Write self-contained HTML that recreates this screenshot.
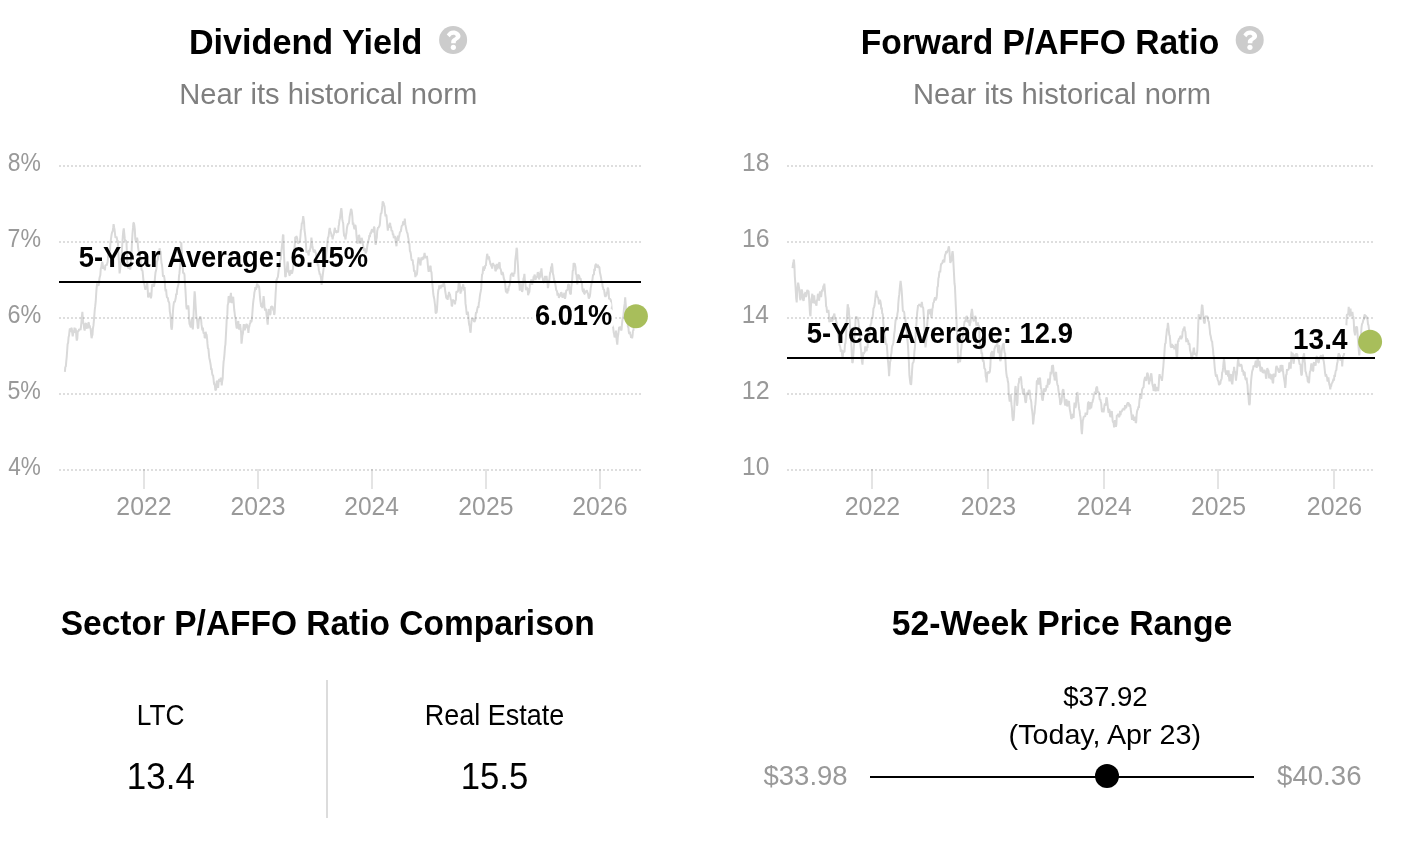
<!DOCTYPE html>
<html lang="en">
<head>
<meta charset="utf-8">
<title>Valuation</title>
<style>
html,body{margin:0;padding:0;background:#fff;}
body{width:1414px;height:850px;overflow:hidden;font-family:"Liberation Sans",sans-serif;}
svg{display:block;position:absolute;left:0;top:0;will-change:transform;}
text{font-family:"Liberation Sans",sans-serif;}
.b{font-weight:bold;}
.halo{paint-order:stroke;stroke:#fff;stroke-width:8px;stroke-linejoin:round;}
.grid line{stroke:#000;stroke-opacity:.13;stroke-width:2;stroke-dasharray:2 2;}
.tick line{stroke:#000;stroke-opacity:.105;stroke-width:2;}
.series{fill:none;stroke:#d9d9d9;stroke-width:2;stroke-linejoin:bevel;stroke-linecap:butt;}
</style>
</head>
<body>
<svg width="1414" height="850" viewBox="0 0 1414 850">

<path class="series" d="M64.9 371.9 L65.3 366.8 L65.8 366.7 L66.3 360.9 L66.7 357.1 L67.2 350.2 L67.6 344.2 L68.1 342.9 L68.6 337.0 L69.0 335.8 L69.5 331.0 L69.9 328.3 L70.4 329.8 L70.9 332.0 L71.3 327.9 L71.8 328.7 L72.2 332.7 L72.7 336.4 L73.2 333.3 L73.6 330.5 L74.1 332.9 L74.5 327.7 L75.0 331.3 L75.5 328.4 L75.9 330.2 L76.4 337.3 L76.8 340.6 L77.3 338.8 L77.8 330.5 L78.2 331.1 L78.7 331.1 L79.1 329.0 L79.6 329.8 L80.1 328.9 L80.5 330.1 L81.0 326.5 L81.4 322.6 L81.9 316.1 L82.4 311.8 L82.8 318.6 L83.3 323.2 L83.7 324.1 L84.2 328.8 L84.7 330.6 L85.1 325.0 L85.6 323.7 L86.0 323.2 L86.5 327.2 L87.0 328.6 L87.4 326.4 L87.9 328.5 L88.3 322.5 L88.8 322.9 L89.3 326.8 L89.7 325.3 L90.2 328.3 L90.6 328.3 L91.1 334.3 L91.6 338.2 L92.0 336.1 L92.5 334.6 L92.9 328.5 L93.4 325.9 L93.9 320.7 L94.3 315.6 L94.8 309.5 L95.2 306.2 L95.7 301.7 L96.2 293.4 L96.6 288.2 L97.1 283.4 L97.5 285.6 L98.0 284.9 L98.5 285.8 L98.9 283.7 L99.4 278.8 L99.8 276.8 L100.3 275.2 L100.8 268.4 L101.2 267.8 L101.7 264.2 L102.1 262.0 L102.6 263.1 L103.1 268.9 L103.5 267.6 L104.0 267.9 L104.4 268.0 L104.9 270.3 L105.4 265.1 L105.8 265.2 L106.3 264.8 L106.7 265.6 L107.2 263.4 L107.7 261.4 L108.1 255.7 L108.6 253.5 L109.0 250.9 L109.5 251.7 L110.0 250.4 L110.4 243.5 L110.9 239.7 L111.3 236.6 L111.8 233.3 L112.3 231.9 L112.7 231.1 L113.2 227.7 L113.6 224.2 L114.1 227.2 L114.6 230.0 L115.0 233.9 L115.5 238.0 L115.9 237.3 L116.4 236.4 L116.9 238.2 L117.3 241.3 L117.8 240.3 L118.2 249.4 L118.7 257.4 L119.2 265.9 L119.6 273.4 L120.1 269.8 L120.5 266.1 L121.0 260.9 L121.5 259.5 L121.9 249.8 L122.4 242.3 L122.8 236.4 L123.3 231.2 L123.8 228.3 L124.2 232.8 L124.7 238.2 L125.1 241.2 L125.6 240.3 L126.1 241.0 L126.5 242.9 L127.0 255.5 L127.4 262.7 L127.9 267.7 L128.4 268.0 L128.8 268.1 L129.3 267.9 L129.7 266.0 L130.2 269.6 L130.7 266.3 L131.1 257.4 L131.6 250.8 L132.0 241.3 L132.5 233.5 L133.0 227.9 L133.4 222.9 L133.9 222.8 L134.3 225.1 L134.8 229.3 L135.3 238.9 L135.7 240.6 L136.2 241.2 L136.6 241.7 L137.1 237.6 L137.6 240.7 L138.0 247.0 L138.5 250.0 L138.9 252.2 L139.4 252.8 L139.9 256.3 L140.3 258.6 L140.8 265.1 L141.2 266.6 L141.7 270.3 L142.2 270.1 L142.6 271.3 L143.1 276.9 L143.5 280.9 L144.0 282.8 L144.5 285.1 L144.9 287.7 L145.4 289.8 L145.8 287.3 L146.3 287.5 L146.8 285.7 L147.2 282.6 L147.7 289.0 L148.1 297.5 L148.6 295.7 L149.1 295.5 L149.5 294.8 L150.0 292.7 L150.4 296.3 L150.9 298.2 L151.4 295.6 L151.8 288.3 L152.3 284.1 L152.7 284.8 L153.2 285.6 L153.7 286.6 L154.1 285.8 L154.6 282.5 L155.0 277.3 L155.5 272.5 L156.0 270.5 L156.4 268.9 L156.9 261.8 L157.3 261.0 L157.8 259.5 L158.3 255.7 L158.7 253.2 L159.2 251.0 L159.6 248.3 L160.1 251.0 L160.6 251.8 L161.0 257.7 L161.5 263.0 L161.9 264.4 L162.4 268.5 L162.9 275.6 L163.3 276.7 L163.8 275.1 L164.2 276.9 L164.7 280.2 L165.2 288.0 L165.6 291.5 L166.1 289.3 L166.5 294.3 L167.0 297.6 L167.5 297.7 L167.9 298.2 L168.4 301.5 L168.8 301.8 L169.3 303.3 L169.8 311.6 L170.2 313.6 L170.7 318.1 L171.1 326.3 L171.6 329.7 L172.1 327.3 L172.5 319.6 L173.0 310.8 L173.4 306.1 L173.9 302.6 L174.4 301.4 L174.8 302.4 L175.3 299.9 L175.7 298.3 L176.2 293.6 L176.7 294.9 L177.1 289.8 L177.6 287.6 L178.0 286.1 L178.5 284.3 L179.0 276.1 L179.4 273.7 L179.9 268.0 L180.3 264.1 L180.8 255.1 L181.3 242.3 L181.7 251.1 L182.2 260.9 L182.6 265.0 L183.1 273.2 L183.6 273.0 L184.0 273.1 L184.5 275.1 L184.9 282.5 L185.4 289.1 L185.9 298.0 L186.3 306.0 L186.8 309.3 L187.2 307.4 L187.7 309.1 L188.2 305.3 L188.6 307.9 L189.1 319.5 L189.5 323.9 L190.0 324.8 L190.5 326.7 L190.9 327.3 L191.4 321.5 L191.8 318.8 L192.3 322.8 L192.8 329.4 L193.2 323.8 L193.7 311.3 L194.1 301.3 L194.6 291.3 L195.1 296.1 L195.5 303.8 L196.0 311.5 L196.4 317.6 L196.9 319.0 L197.4 322.8 L197.8 328.0 L198.3 328.2 L198.7 321.7 L199.2 318.5 L199.7 319.2 L200.1 316.4 L200.6 317.3 L201.0 318.7 L201.5 324.4 L202.0 327.8 L202.4 330.3 L202.9 327.6 L203.3 331.7 L203.8 333.8 L204.3 332.6 L204.7 337.9 L205.2 337.6 L205.6 331.8 L206.1 334.2 L206.6 334.7 L207.0 337.8 L207.5 343.9 L207.9 348.2 L208.4 348.7 L208.9 354.1 L209.3 357.9 L209.8 360.0 L210.2 362.1 L210.7 365.0 L211.2 369.8 L211.6 368.3 L212.1 373.1 L212.5 375.2 L213.0 375.0 L213.5 378.6 L213.9 383.0 L214.4 385.0 L214.8 383.7 L215.3 389.8 L215.8 390.3 L216.2 388.9 L216.7 381.4 L217.1 381.3 L217.6 381.8 L218.1 387.8 L218.5 383.3 L219.0 379.7 L219.4 379.4 L219.9 381.5 L220.4 380.4 L220.8 377.7 L221.3 379.8 L221.7 385.4 L222.2 381.0 L222.7 378.3 L223.1 369.0 L223.6 361.6 L224.0 359.2 L224.5 353.8 L225.0 346.9 L225.4 344.6 L225.9 335.4 L226.3 328.1 L226.8 317.6 L227.3 314.9 L227.7 305.0 L228.2 303.5 L228.6 296.4 L229.1 297.0 L229.6 300.0 L230.0 302.5 L230.5 296.7 L230.9 292.9 L231.4 299.2 L231.9 303.1 L232.3 300.6 L232.8 298.0 L233.2 296.8 L233.7 303.1 L234.2 309.5 L234.6 312.5 L235.1 317.1 L235.5 317.2 L236.0 323.5 L236.5 327.2 L236.9 328.6 L237.4 324.1 L237.8 322.4 L238.3 321.1 L238.8 327.5 L239.2 329.5 L239.7 325.1 L240.1 324.1 L240.6 329.0 L241.1 332.4 L241.5 343.6 L242.0 339.6 L242.4 335.5 L242.9 333.5 L243.4 327.6 L243.8 324.2 L244.3 326.1 L244.7 330.3 L245.2 328.3 L245.7 327.8 L246.1 324.7 L246.6 324.4 L247.0 324.7 L247.5 326.1 L248.0 328.6 L248.4 332.8 L248.9 327.6 L249.3 326.7 L249.8 323.7 L250.3 323.2 L250.7 320.2 L251.2 322.3 L251.6 321.1 L252.1 316.7 L252.6 309.6 L253.0 304.2 L253.5 299.8 L253.9 297.4 L254.4 292.5 L254.9 290.6 L255.3 287.1 L255.8 289.6 L256.2 288.9 L256.7 285.4 L257.2 283.5 L257.6 287.7 L258.1 284.8 L258.5 286.1 L259.0 286.2 L259.5 290.6 L259.9 296.2 L260.4 301.1 L260.8 303.8 L261.3 306.8 L261.8 305.7 L262.2 308.2 L262.7 303.8 L263.1 301.6 L263.6 296.0 L264.1 300.0 L264.5 307.2 L265.0 310.0 L265.4 310.3 L265.9 308.5 L266.4 312.8 L266.8 316.8 L267.3 321.4 L267.7 324.6 L268.2 315.9 L268.7 309.0 L269.1 312.1 L269.6 310.2 L270.0 315.0 L270.5 313.9 L271.0 306.5 L271.4 306.7 L271.9 306.5 L272.3 306.3 L272.8 307.8 L273.3 310.5 L273.7 310.0 L274.2 315.0 L274.6 313.1 L275.1 303.6 L275.6 294.0 L276.0 287.7 L276.5 279.9 L276.9 279.4 L277.4 277.8 L277.9 277.0 L278.3 273.3 L278.8 269.2 L279.2 267.2 L279.7 266.0 L280.2 260.2 L280.6 259.7 L281.1 254.3 L281.5 249.9 L282.0 245.4 L282.5 241.1 L282.9 235.4 L283.4 234.7 L283.8 250.4 L284.3 261.2 L284.8 268.1 L285.2 276.4 L285.7 276.8 L286.1 271.6 L286.6 272.6 L287.1 266.6 L287.5 261.5 L288.0 264.0 L288.4 270.8 L288.9 272.1 L289.4 275.1 L289.8 275.5 L290.3 271.5 L290.7 270.2 L291.2 271.3 L291.7 273.3 L292.1 273.4 L292.6 270.7 L293.0 268.8 L293.5 263.4 L294.0 255.7 L294.4 248.4 L294.9 243.5 L295.3 236.7 L295.8 238.6 L296.3 236.3 L296.7 236.7 L297.2 238.5 L297.6 241.8 L298.1 243.1 L298.6 243.4 L299.0 241.1 L299.5 242.0 L299.9 241.2 L300.4 236.6 L300.9 229.9 L301.3 229.6 L301.8 222.9 L302.2 223.4 L302.7 220.6 L303.2 216.2 L303.6 218.9 L304.1 222.6 L304.5 230.0 L305.0 233.6 L305.5 238.1 L305.9 242.9 L306.4 252.7 L306.8 250.7 L307.3 252.7 L307.8 251.0 L308.2 253.4 L308.7 255.5 L309.1 249.9 L309.6 251.8 L310.1 249.1 L310.5 247.8 L311.0 243.8 L311.4 237.6 L311.9 242.4 L312.4 246.0 L312.8 248.2 L313.3 250.0 L313.7 252.1 L314.2 251.7 L314.7 250.3 L315.1 250.2 L315.6 252.6 L316.0 253.9 L316.5 258.7 L317.0 256.6 L317.4 262.5 L317.9 266.0 L318.3 264.2 L318.8 270.2 L319.3 271.7 L319.7 274.7 L320.2 273.6 L320.6 276.0 L321.1 278.7 L321.6 284.9 L322.0 282.4 L322.5 277.3 L322.9 273.9 L323.4 270.2 L323.9 266.7 L324.3 264.8 L324.8 267.2 L325.2 261.6 L325.7 261.7 L326.2 255.0 L326.6 250.7 L327.1 247.5 L327.5 241.2 L328.0 237.4 L328.5 237.0 L328.9 233.5 L329.4 229.3 L329.8 227.9 L330.3 230.9 L330.8 232.9 L331.2 233.1 L331.7 236.7 L332.1 235.9 L332.6 239.4 L333.1 236.0 L333.5 235.3 L334.0 233.5 L334.4 230.5 L334.9 227.8 L335.4 232.7 L335.8 230.1 L336.3 232.5 L336.7 232.3 L337.2 230.7 L337.7 231.9 L338.1 232.5 L338.6 226.1 L339.0 224.7 L339.5 219.9 L340.0 218.2 L340.4 214.8 L340.9 210.6 L341.3 208.2 L341.8 211.8 L342.3 219.5 L342.7 221.3 L343.2 223.2 L343.6 230.8 L344.1 235.9 L344.6 236.0 L345.0 236.6 L345.5 239.5 L345.9 235.7 L346.4 233.3 L346.9 228.2 L347.3 226.3 L347.8 224.2 L348.2 223.8 L348.7 223.8 L349.2 221.1 L349.6 216.8 L350.1 213.9 L350.5 212.1 L351.0 208.9 L351.5 210.0 L351.9 212.2 L352.4 217.2 L352.8 224.6 L353.3 222.7 L353.8 226.4 L354.2 228.3 L354.7 229.1 L355.1 224.8 L355.6 225.9 L356.1 230.2 L356.5 235.7 L357.0 240.7 L357.4 243.6 L357.9 242.3 L358.4 241.1 L358.8 235.3 L359.3 235.5 L359.7 240.5 L360.2 243.6 L360.7 242.3 L361.1 242.0 L361.6 237.9 L362.0 239.0 L362.5 242.2 L363.0 244.9 L363.4 247.7 L363.9 251.1 L364.3 248.9 L364.8 248.6 L365.3 249.8 L365.7 253.3 L366.2 252.2 L366.6 251.2 L367.1 247.4 L367.6 243.9 L368.0 243.0 L368.5 240.1 L368.9 239.2 L369.4 235.0 L369.9 237.1 L370.3 232.6 L370.8 234.2 L371.2 231.7 L371.7 230.1 L372.2 229.3 L372.6 230.4 L373.1 232.2 L373.5 231.5 L374.0 226.7 L374.5 227.9 L374.9 236.6 L375.4 243.6 L375.8 244.6 L376.3 239.6 L376.8 237.8 L377.2 231.0 L377.7 229.1 L378.1 227.2 L378.6 228.0 L379.1 226.0 L379.5 226.4 L380.0 222.8 L380.4 217.0 L380.9 212.9 L381.4 213.5 L381.8 210.5 L382.3 205.7 L382.7 201.3 L383.2 202.6 L383.7 203.1 L384.1 204.9 L384.6 206.8 L385.0 212.0 L385.5 216.4 L386.0 214.9 L386.4 215.3 L386.9 220.4 L387.3 225.0 L387.8 230.6 L388.3 226.8 L388.7 227.5 L389.2 225.5 L389.6 224.2 L390.1 222.9 L390.6 227.8 L391.0 226.5 L391.5 231.2 L391.9 230.5 L392.4 231.2 L392.9 235.1 L393.3 233.7 L393.8 238.1 L394.2 237.3 L394.7 236.1 L395.2 237.4 L395.6 240.5 L396.1 244.1 L396.5 246.3 L397.0 239.6 L397.5 237.9 L397.9 235.7 L398.4 240.8 L398.8 237.5 L399.3 235.9 L399.8 232.6 L400.2 231.5 L400.7 231.9 L401.1 229.8 L401.6 226.3 L402.1 225.5 L402.5 225.8 L403.0 222.5 L403.4 221.2 L403.9 224.6 L404.4 223.6 L404.8 218.5 L405.3 224.4 L405.7 226.3 L406.2 229.1 L406.7 231.2 L407.1 232.5 L407.6 233.6 L408.0 236.6 L408.5 238.9 L409.0 244.2 L409.4 243.3 L409.9 251.3 L410.3 251.5 L410.8 253.8 L411.3 258.2 L411.7 260.3 L412.2 260.1 L412.6 259.6 L413.1 263.9 L413.6 266.0 L414.0 271.6 L414.5 270.1 L414.9 272.3 L415.4 277.1 L415.9 274.1 L416.3 275.0 L416.8 274.6 L417.2 271.8 L417.7 264.4 L418.2 260.5 L418.6 257.4 L419.1 260.9 L419.5 259.4 L420.0 263.3 L420.5 265.4 L420.9 260.4 L421.4 257.5 L421.8 259.9 L422.3 259.0 L422.8 257.0 L423.2 259.5 L423.7 256.8 L424.1 255.4 L424.6 252.9 L425.1 256.8 L425.5 258.3 L426.0 256.6 L426.4 257.9 L426.9 256.0 L427.4 259.6 L427.8 264.6 L428.3 269.6 L428.7 271.7 L429.2 270.0 L429.7 267.6 L430.1 266.8 L430.6 265.8 L431.0 271.4 L431.5 272.1 L432.0 279.6 L432.4 284.5 L432.9 289.6 L433.3 294.0 L433.8 297.1 L434.3 299.1 L434.7 302.5 L435.2 306.5 L435.6 312.9 L436.1 313.0 L436.6 312.3 L437.0 309.5 L437.5 301.0 L437.9 294.2 L438.4 289.9 L438.9 289.1 L439.3 285.4 L439.8 288.4 L440.2 287.8 L440.7 288.3 L441.2 285.6 L441.6 285.2 L442.1 285.8 L442.5 286.3 L443.0 286.1 L443.5 283.3 L443.9 282.9 L444.4 284.8 L444.8 287.6 L445.3 291.8 L445.8 294.6 L446.2 297.7 L446.7 298.1 L447.1 295.4 L447.6 299.8 L448.1 296.4 L448.5 295.3 L449.0 292.0 L449.4 294.1 L449.9 294.3 L450.4 297.1 L450.8 299.6 L451.3 300.5 L451.7 306.3 L452.2 305.7 L452.7 301.7 L453.1 299.5 L453.6 301.7 L454.0 301.0 L454.5 300.5 L455.0 304.3 L455.4 300.9 L455.9 299.8 L456.3 291.9 L456.8 291.6 L457.3 292.4 L457.7 291.5 L458.2 290.5 L458.6 283.8 L459.1 282.8 L459.6 284.0 L460.0 286.5 L460.5 293.6 L460.9 291.1 L461.4 291.3 L461.9 286.8 L462.3 288.6 L462.8 286.2 L463.2 284.3 L463.7 287.8 L464.2 290.6 L464.6 287.0 L465.1 294.9 L465.5 303.4 L466.0 307.0 L466.5 312.0 L466.9 314.8 L467.4 313.1 L467.8 311.6 L468.3 315.7 L468.8 322.0 L469.2 324.9 L469.7 326.2 L470.1 330.5 L470.6 332.7 L471.1 325.6 L471.5 321.3 L472.0 318.4 L472.4 320.0 L472.9 318.7 L473.4 318.4 L473.8 320.8 L474.3 321.8 L474.7 321.3 L475.2 320.2 L475.7 314.7 L476.1 312.2 L476.6 313.2 L477.0 310.5 L477.5 308.0 L478.0 306.4 L478.4 308.0 L478.9 302.6 L479.3 301.2 L479.8 296.7 L480.3 293.4 L480.7 291.6 L481.2 288.4 L481.6 280.3 L482.1 274.0 L482.6 274.1 L483.0 269.2 L483.5 266.4 L483.9 270.7 L484.4 268.0 L484.9 268.7 L485.3 265.1 L485.8 266.0 L486.2 262.0 L486.7 257.5 L487.2 253.8 L487.6 255.9 L488.1 257.2 L488.5 259.3 L489.0 256.4 L489.5 260.3 L489.9 261.2 L490.4 264.1 L490.8 264.4 L491.3 265.9 L491.8 266.7 L492.2 268.6 L492.7 263.4 L493.1 263.6 L493.6 264.7 L494.1 266.0 L494.5 264.9 L495.0 266.8 L495.4 271.2 L495.9 270.4 L496.4 266.3 L496.8 263.9 L497.3 269.3 L497.7 267.5 L498.2 267.9 L498.7 264.4 L499.1 263.1 L499.6 262.3 L500.0 268.4 L500.5 268.7 L501.0 270.2 L501.4 273.7 L501.9 274.9 L502.3 272.2 L502.8 272.8 L503.3 275.0 L503.7 277.9 L504.2 279.6 L504.6 280.3 L505.1 283.5 L505.6 289.2 L506.0 292.5 L506.5 288.8 L506.9 292.1 L507.4 293.5 L507.9 288.3 L508.3 291.2 L508.8 286.1 L509.2 286.5 L509.7 284.8 L510.2 281.6 L510.6 276.1 L511.1 274.0 L511.5 274.3 L512.0 272.8 L512.5 274.2 L512.9 275.0 L513.4 276.6 L513.8 272.9 L514.3 274.2 L514.8 270.7 L515.2 261.1 L515.7 256.7 L516.1 253.5 L516.6 247.8 L517.1 249.7 L517.5 259.3 L518.0 266.2 L518.4 275.1 L518.9 283.1 L519.4 285.1 L519.8 290.6 L520.3 288.6 L520.7 283.2 L521.2 285.9 L521.7 285.9 L522.1 292.0 L522.6 290.1 L523.0 285.0 L523.5 278.4 L524.0 277.3 L524.4 273.8 L524.9 280.5 L525.3 281.8 L525.8 289.5 L526.3 289.6 L526.7 287.0 L527.2 288.7 L527.6 288.1 L528.1 295.2 L528.6 293.0 L529.0 293.0 L529.5 291.0 L529.9 284.0 L530.4 284.1 L530.9 282.7 L531.3 279.4 L531.8 282.0 L532.2 284.8 L532.7 279.4 L533.2 280.9 L533.6 276.3 L534.1 278.5 L534.5 274.7 L535.0 276.1 L535.5 280.1 L535.9 277.5 L536.4 277.7 L536.8 277.6 L537.3 275.2 L537.8 272.1 L538.2 273.3 L538.7 274.1 L539.1 279.4 L539.6 277.3 L540.1 276.9 L540.5 271.2 L541.0 272.9 L541.4 268.3 L541.9 273.3 L542.4 277.7 L542.8 278.0 L543.3 282.4 L543.7 282.5 L544.2 281.4 L544.7 281.7 L545.1 275.9 L545.6 279.6 L546.0 278.0 L546.5 275.9 L547.0 280.2 L547.4 280.9 L547.9 288.1 L548.3 285.9 L548.8 281.2 L549.3 280.2 L549.7 276.0 L550.2 271.8 L550.6 272.6 L551.1 266.7 L551.6 268.3 L552.0 263.4 L552.5 267.9 L552.9 273.6 L553.4 275.1 L553.9 278.8 L554.3 280.5 L554.8 281.1 L555.2 283.6 L555.7 286.5 L556.2 290.2 L556.6 290.5 L557.1 291.7 L557.5 295.6 L558.0 293.1 L558.5 294.3 L558.9 298.0 L559.4 295.8 L559.8 296.1 L560.3 296.1 L560.8 293.1 L561.2 292.5 L561.7 293.0 L562.1 296.2 L562.6 297.8 L563.1 294.7 L563.5 295.6 L564.0 294.0 L564.4 292.9 L564.9 298.8 L565.4 297.1 L565.8 293.9 L566.3 290.2 L566.7 290.3 L567.2 290.3 L567.7 288.7 L568.1 284.8 L568.6 284.4 L569.0 284.9 L569.5 290.6 L570.0 293.1 L570.4 294.2 L570.9 293.8 L571.3 286.8 L571.8 283.4 L572.3 277.6 L572.7 270.7 L573.2 270.2 L573.6 263.0 L574.1 264.3 L574.6 263.2 L575.0 264.8 L575.5 267.1 L575.9 274.5 L576.4 273.8 L576.9 279.3 L577.3 284.3 L577.8 277.7 L578.2 274.9 L578.7 275.3 L579.2 275.9 L579.6 277.5 L580.1 279.5 L580.5 278.2 L581.0 280.6 L581.5 282.9 L581.9 282.9 L582.4 289.2 L582.8 291.0 L583.3 291.9 L583.8 288.7 L584.2 294.0 L584.7 293.8 L585.1 291.4 L585.6 292.0 L586.1 291.2 L586.5 290.7 L587.0 290.8 L587.4 292.7 L587.9 293.2 L588.4 296.3 L588.8 298.7 L589.3 297.4 L589.7 296.8 L590.2 293.8 L590.7 288.0 L591.1 286.1 L591.6 282.9 L592.0 282.6 L592.5 279.1 L593.0 275.0 L593.4 274.7 L593.9 274.7 L594.3 268.8 L594.8 270.8 L595.3 265.1 L595.7 264.6 L596.2 263.8 L596.6 266.1 L597.1 267.4 L597.6 266.9 L598.0 264.6 L598.5 268.0 L598.9 266.8 L599.4 267.2 L599.9 272.6 L600.3 274.0 L600.8 276.5 L601.2 278.6 L601.7 282.8 L602.2 282.4 L602.6 286.4 L603.1 287.5 L603.5 289.9 L604.0 289.0 L604.5 293.2 L604.9 295.6 L605.4 296.9 L605.8 295.4 L606.3 296.1 L606.8 291.8 L607.2 294.1 L607.7 288.1 L608.1 288.1 L608.6 291.3 L609.1 299.3 L609.5 298.9 L610.0 298.7 L610.4 299.3 L610.9 300.5 L611.4 305.5 L611.8 310.3 L612.3 318.5 L612.7 326.5 L613.2 327.9 L613.7 332.5 L614.1 333.9 L614.6 337.4 L615.0 336.3 L615.5 335.3 L616.0 330.5 L616.4 337.7 L616.9 342.2 L617.3 344.7 L617.8 337.1 L618.3 334.0 L618.7 330.6 L619.2 326.9 L619.6 328.6 L620.1 326.7 L620.6 327.3 L621.0 329.8 L621.5 330.3 L621.9 325.0 L622.4 320.3 L622.9 316.9 L623.3 317.0 L623.8 310.6 L624.2 307.0 L624.7 303.7 L625.2 297.4 L625.6 302.9 L626.1 309.6 L626.5 316.0 L627.0 317.5 L627.5 320.0 L627.9 326.7 L628.4 327.5 L628.8 332.1 L629.3 333.9 L629.8 331.7 L630.2 334.0 L630.7 335.3 L631.1 337.9 L631.6 336.2 L632.1 338.3 L632.5 336.1 L633.0 330.6 L633.4 330.6 L633.9 323.3 L634.4 323.4 L634.8 317.6 L635.3 314.6 L635.7 314.2 L635.8 316.4"/>
<path class="series" d="M792.5 268.2 L793.0 264.0 L793.5 261.7 L793.9 259.5 L794.4 265.5 L794.8 276.2 L795.3 283.1 L795.8 291.5 L796.2 298.2 L796.7 302.5 L797.1 293.6 L797.6 287.3 L798.1 282.6 L798.5 284.4 L799.0 287.8 L799.4 289.7 L799.9 297.6 L800.4 300.2 L800.8 296.8 L801.3 292.2 L801.7 289.5 L802.2 291.5 L802.7 298.1 L803.1 299.9 L803.6 300.9 L804.0 298.4 L804.5 294.1 L805.0 293.1 L805.4 292.1 L805.9 296.9 L806.3 295.8 L806.8 292.8 L807.3 289.8 L807.7 291.2 L808.2 290.9 L808.6 291.4 L809.1 298.4 L809.6 307.3 L810.0 314.0 L810.5 316.2 L810.9 306.7 L811.4 299.2 L811.9 297.1 L812.3 293.7 L812.8 301.1 L813.2 303.1 L813.7 301.6 L814.2 295.3 L814.6 300.7 L815.1 303.5 L815.5 301.3 L816.0 304.4 L816.5 305.7 L816.9 299.8 L817.4 299.9 L817.8 294.6 L818.3 294.2 L818.8 300.5 L819.2 300.0 L819.7 293.2 L820.1 291.4 L820.6 294.3 L821.1 297.2 L821.5 293.9 L822.0 289.7 L822.4 291.4 L822.9 289.5 L823.4 285.7 L823.8 287.7 L824.3 283.7 L824.7 287.7 L825.2 294.3 L825.7 298.7 L826.1 306.2 L826.6 307.2 L827.0 312.6 L827.5 311.4 L828.0 310.9 L828.4 309.9 L828.9 314.6 L829.3 322.2 L829.8 320.9 L830.3 317.2 L830.7 321.8 L831.2 319.8 L831.6 319.4 L832.1 321.5 L832.6 320.0 L833.0 315.9 L833.5 319.7 L833.9 315.0 L834.4 313.6 L834.9 318.3 L835.3 318.1 L835.8 319.7 L836.2 320.8 L836.7 323.2 L837.2 328.8 L837.6 330.2 L838.1 334.9 L838.5 336.8 L839.0 339.9 L839.5 345.5 L839.9 345.6 L840.4 348.0 L840.8 352.0 L841.3 350.0 L841.8 350.4 L842.2 356.0 L842.7 357.5 L843.1 352.9 L843.6 350.5 L844.1 352.3 L844.5 351.6 L845.0 343.7 L845.4 343.6 L845.9 338.3 L846.4 328.4 L846.8 318.7 L847.3 310.6 L847.7 304.2 L848.2 307.0 L848.7 308.3 L849.1 315.0 L849.6 318.0 L850.0 326.5 L850.5 331.8 L851.0 338.0 L851.4 345.2 L851.9 357.1 L852.3 363.0 L852.8 362.1 L853.3 354.9 L853.7 349.3 L854.2 341.9 L854.6 333.3 L855.1 329.8 L855.6 319.3 L856.0 316.5 L856.5 317.2 L856.9 318.1 L857.4 317.0 L857.9 318.4 L858.3 320.8 L858.8 325.5 L859.2 327.0 L859.7 331.8 L860.2 340.0 L860.6 346.6 L861.1 350.2 L861.5 356.1 L862.0 361.9 L862.5 364.6 L862.9 357.9 L863.4 352.0 L863.8 353.9 L864.3 352.2 L864.8 352.2 L865.2 346.3 L865.7 349.7 L866.1 350.1 L866.6 351.1 L867.1 346.6 L867.5 347.9 L868.0 340.6 L868.4 339.4 L868.9 337.8 L869.4 335.9 L869.8 331.3 L870.3 327.1 L870.7 324.2 L871.2 323.5 L871.7 318.7 L872.1 318.4 L872.6 316.9 L873.0 313.9 L873.5 308.2 L874.0 307.6 L874.4 306.1 L874.9 302.2 L875.3 298.5 L875.8 293.4 L876.3 290.6 L876.7 294.6 L877.2 295.8 L877.6 297.2 L878.1 297.6 L878.6 300.7 L879.0 304.4 L879.5 301.1 L879.9 299.8 L880.4 301.3 L880.9 304.4 L881.3 309.4 L881.8 307.6 L882.2 313.8 L882.7 313.6 L883.2 321.1 L883.6 326.7 L884.1 329.4 L884.5 335.0 L885.0 337.3 L885.5 340.6 L885.9 344.8 L886.4 343.5 L886.8 344.9 L887.3 351.5 L887.8 359.4 L888.2 362.9 L888.7 368.9 L889.1 376.1 L889.6 368.8 L890.1 361.5 L890.5 360.9 L891.0 354.9 L891.4 353.3 L891.9 347.7 L892.4 345.5 L892.8 344.9 L893.3 343.0 L893.7 339.9 L894.2 333.9 L894.7 330.7 L895.1 325.4 L895.6 320.1 L896.0 319.6 L896.5 319.8 L897.0 318.0 L897.4 313.6 L897.9 311.1 L898.3 303.5 L898.8 297.6 L899.3 294.4 L899.7 289.0 L900.2 284.1 L900.6 280.8 L901.1 285.0 L901.6 289.9 L902.0 295.2 L902.5 305.0 L902.9 311.0 L903.4 311.2 L903.9 311.4 L904.3 312.8 L904.8 319.2 L905.2 316.8 L905.7 323.0 L906.2 327.4 L906.6 330.4 L907.1 338.2 L907.5 340.2 L908.0 346.2 L908.5 355.3 L908.9 362.2 L909.4 374.9 L909.8 378.6 L910.3 382.9 L910.8 384.8 L911.2 384.2 L911.7 377.1 L912.1 370.1 L912.6 363.2 L913.1 362.7 L913.5 362.2 L914.0 359.1 L914.4 351.3 L914.9 347.6 L915.4 339.2 L915.8 330.9 L916.3 325.4 L916.7 319.3 L917.2 312.4 L917.7 308.6 L918.1 305.2 L918.6 306.2 L919.0 304.8 L919.5 304.4 L920.0 305.5 L920.4 303.9 L920.9 306.3 L921.3 307.1 L921.8 301.9 L922.3 305.5 L922.7 307.4 L923.2 307.8 L923.6 313.0 L924.1 321.3 L924.6 332.5 L925.0 341.9 L925.5 347.3 L925.9 344.3 L926.4 339.2 L926.9 333.7 L927.3 323.0 L927.8 316.8 L928.2 309.7 L928.7 310.1 L929.2 313.5 L929.6 313.7 L930.1 312.2 L930.5 308.8 L931.0 315.2 L931.5 317.8 L931.9 314.6 L932.4 308.8 L932.8 307.5 L933.3 302.5 L933.8 302.7 L934.2 300.3 L934.7 298.5 L935.1 297.4 L935.6 300.3 L936.1 299.0 L936.5 298.2 L937.0 294.5 L937.4 287.0 L937.9 286.5 L938.4 278.2 L938.8 277.3 L939.3 272.3 L939.7 271.1 L940.2 272.4 L940.7 266.9 L941.1 264.0 L941.6 263.8 L942.0 263.5 L942.5 262.6 L943.0 260.0 L943.4 261.1 L943.9 259.5 L944.3 262.5 L944.8 256.8 L945.3 254.3 L945.7 253.8 L946.2 251.2 L946.6 252.9 L947.1 252.1 L947.6 250.3 L948.0 250.5 L948.5 247.6 L948.9 246.4 L949.4 250.4 L949.9 257.4 L950.3 262.9 L950.8 261.4 L951.2 261.0 L951.7 258.9 L952.2 253.0 L952.6 251.2 L953.1 255.8 L953.5 264.6 L954.0 273.9 L954.5 283.5 L954.9 285.9 L955.4 296.9 L955.8 305.8 L956.3 315.5 L956.8 328.5 L957.2 336.7 L957.7 347.6 L958.1 363.1 L958.6 357.6 L959.1 355.7 L959.5 356.7 L960.0 362.2 L960.4 359.4 L960.9 350.9 L961.4 347.6 L961.8 342.2 L962.3 339.4 L962.7 337.3 L963.2 334.5 L963.7 328.7 L964.1 324.6 L964.6 321.3 L965.0 321.3 L965.5 322.0 L966.0 316.5 L966.4 318.4 L966.9 315.8 L967.3 320.1 L967.8 321.6 L968.3 322.1 L968.7 320.0 L969.2 322.2 L969.6 326.0 L970.1 323.3 L970.6 321.9 L971.0 314.4 L971.5 312.1 L971.9 308.8 L972.4 312.3 L972.9 317.9 L973.3 319.9 L973.8 321.3 L974.2 319.9 L974.7 319.1 L975.2 315.8 L975.6 317.9 L976.1 322.8 L976.5 325.6 L977.0 323.9 L977.5 324.6 L977.9 322.4 L978.4 326.1 L978.8 325.2 L979.3 330.3 L979.8 341.7 L980.2 349.4 L980.7 347.6 L981.1 348.4 L981.6 353.8 L982.1 352.6 L982.5 358.8 L983.0 361.5 L983.4 360.1 L983.9 362.9 L984.4 368.6 L984.8 368.7 L985.3 369.6 L985.7 376.2 L986.2 378.0 L986.7 382.4 L987.1 375.1 L987.6 372.3 L988.0 373.5 L988.5 371.2 L989.0 372.9 L989.4 372.6 L989.9 371.4 L990.3 367.2 L990.8 355.4 L991.3 352.3 L991.7 353.1 L992.2 351.0 L992.6 355.7 L993.1 357.5 L993.6 358.1 L994.0 353.4 L994.5 348.4 L994.9 348.1 L995.4 345.6 L995.9 346.3 L996.3 345.6 L996.8 344.4 L997.2 342.2 L997.7 347.2 L998.2 352.3 L998.6 352.5 L999.1 345.2 L999.5 347.1 L1000.0 360.1 L1000.5 361.0 L1000.9 358.9 L1001.4 353.2 L1001.8 350.1 L1002.3 347.4 L1002.8 344.7 L1003.2 344.6 L1003.7 343.0 L1004.1 348.5 L1004.6 352.9 L1005.1 353.1 L1005.5 360.9 L1006.0 369.5 L1006.4 373.6 L1006.9 377.1 L1007.4 377.8 L1007.8 381.3 L1008.3 383.2 L1008.7 392.6 L1009.2 397.6 L1009.7 401.7 L1010.1 399.0 L1010.6 394.4 L1011.0 398.1 L1011.5 404.7 L1012.0 409.0 L1012.4 416.4 L1012.9 420.0 L1013.3 420.7 L1013.8 417.5 L1014.3 408.5 L1014.7 398.7 L1015.2 388.5 L1015.6 386.0 L1016.1 391.8 L1016.6 398.8 L1017.0 405.8 L1017.5 402.5 L1017.9 392.1 L1018.4 384.0 L1018.9 382.6 L1019.3 378.0 L1019.8 379.5 L1020.2 380.1 L1020.7 376.4 L1021.2 378.9 L1021.6 384.4 L1022.1 388.2 L1022.5 389.3 L1023.0 394.5 L1023.5 391.3 L1023.9 388.7 L1024.4 393.6 L1024.8 397.1 L1025.3 401.4 L1025.8 402.9 L1026.2 400.6 L1026.7 394.2 L1027.1 393.1 L1027.6 392.6 L1028.1 395.1 L1028.5 390.5 L1029.0 390.7 L1029.4 390.0 L1029.9 393.1 L1030.4 399.2 L1030.8 399.4 L1031.3 402.2 L1031.7 407.8 L1032.2 411.0 L1032.7 416.0 L1033.1 424.4 L1033.6 420.1 L1034.0 415.2 L1034.5 413.3 L1035.0 406.8 L1035.4 404.4 L1035.9 398.1 L1036.3 392.5 L1036.8 381.3 L1037.3 380.6 L1037.7 380.8 L1038.2 377.9 L1038.6 384.7 L1039.1 380.2 L1039.6 378.5 L1040.0 377.7 L1040.5 383.4 L1040.9 388.1 L1041.4 388.5 L1041.9 397.1 L1042.3 399.5 L1042.8 400.7 L1043.2 396.6 L1043.7 391.5 L1044.2 388.4 L1044.6 389.6 L1045.1 391.7 L1045.5 390.8 L1046.0 389.6 L1046.5 385.4 L1046.9 385.6 L1047.4 387.6 L1047.8 382.1 L1048.3 378.7 L1048.8 384.1 L1049.2 384.0 L1049.7 382.7 L1050.1 378.4 L1050.6 371.8 L1051.1 374.3 L1051.5 372.7 L1052.0 365.3 L1052.4 368.0 L1052.9 364.8 L1053.4 368.7 L1053.8 376.2 L1054.3 376.1 L1054.7 380.4 L1055.2 379.2 L1055.7 372.6 L1056.1 372.2 L1056.6 378.3 L1057.0 382.2 L1057.5 385.4 L1058.0 385.3 L1058.4 390.0 L1058.9 393.2 L1059.3 396.2 L1059.8 398.9 L1060.3 405.0 L1060.7 403.5 L1061.2 402.7 L1061.6 401.0 L1062.1 395.4 L1062.6 390.5 L1063.0 389.8 L1063.5 389.6 L1063.9 396.2 L1064.4 398.9 L1064.9 403.8 L1065.3 405.4 L1065.8 402.9 L1066.2 399.4 L1066.7 400.3 L1067.2 406.3 L1067.6 405.4 L1068.1 403.5 L1068.5 401.7 L1069.0 401.2 L1069.5 407.0 L1069.9 410.1 L1070.4 412.5 L1070.8 415.1 L1071.3 418.8 L1071.8 418.4 L1072.2 414.3 L1072.7 414.6 L1073.1 416.3 L1073.6 417.9 L1074.1 408.6 L1074.5 402.5 L1075.0 404.6 L1075.4 408.1 L1075.9 405.5 L1076.4 396.9 L1076.8 396.2 L1077.3 392.0 L1077.7 393.9 L1078.2 401.4 L1078.7 405.0 L1079.1 408.9 L1079.6 410.9 L1080.0 414.7 L1080.5 417.2 L1081.0 422.3 L1081.4 429.1 L1081.9 434.2 L1082.3 428.6 L1082.8 420.5 L1083.3 419.2 L1083.7 416.6 L1084.2 416.8 L1084.6 415.9 L1085.1 417.0 L1085.6 412.6 L1086.0 413.8 L1086.5 413.5 L1086.9 414.9 L1087.4 412.0 L1087.9 403.8 L1088.3 402.2 L1088.8 402.1 L1089.2 408.0 L1089.7 409.3 L1090.2 406.2 L1090.6 402.2 L1091.1 408.2 L1091.5 406.1 L1092.0 402.4 L1092.5 402.3 L1092.9 400.0 L1093.4 398.9 L1093.8 394.6 L1094.3 394.7 L1094.8 391.7 L1095.2 392.9 L1095.7 393.9 L1096.1 388.7 L1096.6 387.0 L1097.1 387.1 L1097.5 390.2 L1098.0 392.7 L1098.4 392.2 L1098.9 392.0 L1099.4 396.9 L1099.8 399.9 L1100.3 399.3 L1100.7 401.3 L1101.2 403.1 L1101.7 409.7 L1102.1 412.0 L1102.6 410.8 L1103.0 408.4 L1103.5 412.3 L1104.0 409.6 L1104.4 405.7 L1104.9 403.5 L1105.3 405.6 L1105.8 404.5 L1106.3 398.4 L1106.7 397.5 L1107.2 401.0 L1107.6 404.7 L1108.1 409.5 L1108.6 412.9 L1109.0 409.4 L1109.5 409.8 L1109.9 415.1 L1110.4 416.9 L1110.9 416.1 L1111.3 412.6 L1111.8 411.2 L1112.2 415.3 L1112.7 421.1 L1113.2 422.4 L1113.6 422.7 L1114.1 427.5 L1114.5 424.3 L1115.0 420.0 L1115.5 424.6 L1115.9 426.7 L1116.4 424.3 L1116.8 415.4 L1117.3 415.4 L1117.8 416.1 L1118.2 413.6 L1118.7 415.1 L1119.1 417.3 L1119.6 415.6 L1120.1 410.9 L1120.5 415.0 L1121.0 411.6 L1121.4 411.8 L1121.9 411.1 L1122.4 409.9 L1122.8 408.7 L1123.3 409.6 L1123.7 407.9 L1124.2 410.4 L1124.7 408.2 L1125.1 405.2 L1125.6 407.7 L1126.0 407.8 L1126.5 406.6 L1127.0 404.3 L1127.4 403.4 L1127.9 402.4 L1128.3 403.2 L1128.8 402.8 L1129.3 406.5 L1129.7 404.8 L1130.2 405.1 L1130.6 408.5 L1131.1 412.1 L1131.6 415.9 L1132.0 419.8 L1132.5 416.8 L1132.9 414.6 L1133.4 417.7 L1133.9 420.8 L1134.3 418.2 L1134.8 417.2 L1135.2 417.5 L1135.7 423.0 L1136.2 422.1 L1136.6 414.9 L1137.1 411.2 L1137.5 409.9 L1138.0 409.2 L1138.5 406.3 L1138.9 408.0 L1139.4 401.0 L1139.8 398.5 L1140.3 394.0 L1140.8 396.4 L1141.2 398.9 L1141.7 394.1 L1142.1 389.3 L1142.6 388.6 L1143.1 387.4 L1143.5 387.9 L1144.0 381.9 L1144.4 379.8 L1144.9 377.8 L1145.4 377.1 L1145.8 378.4 L1146.3 381.0 L1146.7 377.3 L1147.2 372.9 L1147.7 373.4 L1148.1 375.5 L1148.6 378.4 L1149.0 384.4 L1149.5 381.2 L1150.0 380.8 L1150.4 379.1 L1150.9 374.4 L1151.3 373.4 L1151.8 377.7 L1152.3 383.6 L1152.7 385.5 L1153.2 387.2 L1153.6 391.0 L1154.1 387.6 L1154.6 384.4 L1155.0 384.4 L1155.5 391.3 L1155.9 390.6 L1156.4 387.0 L1156.9 388.6 L1157.3 390.3 L1157.8 388.4 L1158.2 391.2 L1158.7 385.5 L1159.2 376.9 L1159.6 374.1 L1160.1 377.6 L1160.5 376.8 L1161.0 377.6 L1161.5 378.6 L1161.9 380.8 L1162.4 376.8 L1162.8 371.6 L1163.3 366.8 L1163.8 359.6 L1164.2 356.4 L1164.7 348.1 L1165.1 343.5 L1165.6 343.4 L1166.1 336.8 L1166.5 334.1 L1167.0 328.7 L1167.4 329.1 L1167.9 322.9 L1168.4 326.3 L1168.8 330.5 L1169.3 335.1 L1169.7 335.3 L1170.2 340.1 L1170.7 346.7 L1171.1 347.0 L1171.6 347.6 L1172.0 343.9 L1172.5 345.7 L1173.0 345.2 L1173.4 347.9 L1173.9 346.6 L1174.3 349.3 L1174.8 346.4 L1175.3 348.3 L1175.7 343.9 L1176.2 351.4 L1176.6 356.2 L1177.1 357.8 L1177.6 348.9 L1178.0 340.6 L1178.5 341.9 L1178.9 338.4 L1179.4 339.1 L1179.9 337.7 L1180.3 336.4 L1180.8 336.2 L1181.2 339.1 L1181.7 337.7 L1182.2 337.0 L1182.6 331.6 L1183.1 330.3 L1183.5 328.6 L1184.0 328.9 L1184.5 326.5 L1184.9 330.6 L1185.4 331.6 L1185.8 336.5 L1186.3 342.2 L1186.8 338.7 L1187.2 339.0 L1187.7 340.7 L1188.1 340.3 L1188.6 344.9 L1189.1 343.6 L1189.5 343.8 L1190.0 350.1 L1190.4 351.3 L1190.9 353.8 L1191.4 357.5 L1191.8 359.2 L1192.3 357.1 L1192.7 353.4 L1193.2 352.2 L1193.7 347.8 L1194.1 348.4 L1194.6 354.8 L1195.0 353.1 L1195.5 354.2 L1196.0 353.0 L1196.4 356.5 L1196.9 353.3 L1197.3 350.6 L1197.8 337.8 L1198.3 323.5 L1198.7 314.3 L1199.2 316.5 L1199.6 317.8 L1200.1 318.3 L1200.6 319.7 L1201.0 316.7 L1201.5 310.9 L1201.9 305.4 L1202.4 305.0 L1202.9 310.3 L1203.3 315.5 L1203.8 321.2 L1204.2 322.7 L1204.7 323.4 L1205.2 317.5 L1205.6 316.5 L1206.1 316.2 L1206.5 316.5 L1207.0 316.4 L1207.5 316.7 L1207.9 318.8 L1208.4 321.4 L1208.8 321.4 L1209.3 325.6 L1209.8 330.0 L1210.2 334.4 L1210.7 336.0 L1211.1 338.3 L1211.6 341.2 L1212.1 341.0 L1212.5 345.6 L1213.0 349.4 L1213.4 354.7 L1213.9 356.8 L1214.4 363.6 L1214.8 368.3 L1215.3 372.5 L1215.7 375.4 L1216.2 376.5 L1216.7 374.3 L1217.1 376.8 L1217.6 379.3 L1218.0 380.4 L1218.5 381.7 L1219.0 385.1 L1219.4 383.8 L1219.9 384.0 L1220.3 383.9 L1220.8 380.4 L1221.3 379.6 L1221.7 378.2 L1222.2 371.9 L1222.6 372.2 L1223.1 367.7 L1223.6 362.1 L1224.0 358.8 L1224.5 362.4 L1224.9 367.5 L1225.4 372.1 L1225.9 373.2 L1226.3 374.7 L1226.8 370.3 L1227.2 373.2 L1227.7 374.0 L1228.2 376.6 L1228.6 370.2 L1229.1 378.1 L1229.5 381.3 L1230.0 378.7 L1230.5 375.2 L1230.9 374.2 L1231.4 379.5 L1231.8 382.8 L1232.3 384.3 L1232.8 379.6 L1233.2 371.3 L1233.7 371.7 L1234.1 366.9 L1234.6 371.5 L1235.1 371.6 L1235.5 376.0 L1236.0 380.7 L1236.4 376.3 L1236.9 373.8 L1237.4 366.9 L1237.8 361.5 L1238.3 359.2 L1238.7 363.1 L1239.2 364.5 L1239.7 366.5 L1240.1 365.4 L1240.6 364.8 L1241.0 364.7 L1241.5 365.0 L1242.0 368.2 L1242.4 371.9 L1242.9 369.8 L1243.3 372.3 L1243.8 375.5 L1244.3 372.2 L1244.7 372.3 L1245.2 377.7 L1245.6 379.2 L1246.1 379.7 L1246.6 377.5 L1247.0 382.5 L1247.5 384.9 L1247.9 392.3 L1248.4 394.8 L1248.9 402.8 L1249.3 405.1 L1249.8 403.4 L1250.2 394.9 L1250.7 387.0 L1251.2 379.6 L1251.6 375.8 L1252.1 371.8 L1252.5 370.3 L1253.0 369.3 L1253.5 365.7 L1253.9 366.1 L1254.4 365.8 L1254.8 366.9 L1255.3 363.2 L1255.8 360.6 L1256.2 362.3 L1256.7 368.0 L1257.1 364.6 L1257.6 358.5 L1258.1 357.8 L1258.5 366.3 L1259.0 365.4 L1259.4 360.9 L1259.9 364.7 L1260.4 370.5 L1260.8 371.5 L1261.3 367.7 L1261.7 367.5 L1262.2 368.4 L1262.7 372.8 L1263.1 372.2 L1263.6 373.0 L1264.0 371.4 L1264.5 369.7 L1265.0 371.5 L1265.4 371.6 L1265.9 377.3 L1266.3 378.7 L1266.8 372.4 L1267.3 368.0 L1267.7 369.7 L1268.2 370.0 L1268.6 371.1 L1269.1 378.2 L1269.6 377.5 L1270.0 373.6 L1270.5 377.4 L1270.9 378.3 L1271.4 379.2 L1271.9 374.3 L1272.3 379.8 L1272.8 383.2 L1273.2 382.6 L1273.7 373.5 L1274.2 377.1 L1274.6 376.1 L1275.1 376.3 L1275.5 375.8 L1276.0 367.9 L1276.5 366.0 L1276.9 366.7 L1277.4 369.3 L1277.8 368.0 L1278.3 370.9 L1278.8 371.9 L1279.2 372.3 L1279.7 371.7 L1280.1 369.5 L1280.6 365.1 L1281.1 366.1 L1281.5 371.3 L1282.0 365.9 L1282.4 365.2 L1282.9 370.2 L1283.4 374.2 L1283.8 377.1 L1284.3 380.0 L1284.7 382.6 L1285.2 387.8 L1285.7 383.6 L1286.1 374.8 L1286.6 374.4 L1287.0 369.0 L1287.5 370.4 L1288.0 369.7 L1288.4 370.1 L1288.9 368.1 L1289.3 362.5 L1289.8 363.0 L1290.3 362.8 L1290.7 368.7 L1291.2 358.7 L1291.6 351.3 L1292.1 353.3 L1292.6 350.9 L1293.0 358.0 L1293.5 363.7 L1293.9 361.6 L1294.4 354.5 L1294.9 355.7 L1295.3 357.1 L1295.8 355.1 L1296.2 353.5 L1296.7 354.0 L1297.2 354.0 L1297.6 357.5 L1298.1 357.3 L1298.5 358.7 L1299.0 360.6 L1299.5 363.8 L1299.9 364.5 L1300.4 363.9 L1300.8 369.8 L1301.3 374.9 L1301.8 375.2 L1302.2 370.7 L1302.7 360.8 L1303.1 357.2 L1303.6 355.3 L1304.1 353.3 L1304.5 360.7 L1305.0 363.1 L1305.4 371.3 L1305.9 372.2 L1306.4 374.6 L1306.8 376.9 L1307.3 376.3 L1307.7 381.3 L1308.2 381.7 L1308.7 383.0 L1309.1 382.1 L1309.6 374.5 L1310.0 371.4 L1310.5 370.9 L1311.0 366.0 L1311.4 363.4 L1311.9 367.2 L1312.3 368.2 L1312.8 371.2 L1313.3 370.8 L1313.7 363.1 L1314.2 362.3 L1314.6 364.6 L1315.1 363.9 L1315.6 365.6 L1316.0 361.3 L1316.5 356.7 L1316.9 356.2 L1317.4 358.2 L1317.9 360.1 L1318.3 362.5 L1318.8 362.4 L1319.2 359.3 L1319.7 356.7 L1320.2 357.1 L1320.6 356.0 L1321.1 355.3 L1321.5 359.4 L1322.0 355.8 L1322.5 357.5 L1322.9 354.7 L1323.4 360.1 L1323.8 361.6 L1324.3 365.3 L1324.8 370.4 L1325.2 373.8 L1325.7 376.5 L1326.1 374.3 L1326.6 376.5 L1327.1 377.3 L1327.5 381.3 L1328.0 380.6 L1328.4 377.3 L1328.9 381.8 L1329.4 384.8 L1329.8 386.0 L1330.3 389.4 L1330.7 386.4 L1331.2 386.2 L1331.7 383.1 L1332.1 383.2 L1332.6 382.0 L1333.0 380.9 L1333.5 378.7 L1334.0 380.6 L1334.4 374.8 L1334.9 376.8 L1335.3 373.3 L1335.8 370.6 L1336.3 370.5 L1336.7 366.3 L1337.2 363.2 L1337.6 361.7 L1338.1 356.6 L1338.6 353.3 L1339.0 353.9 L1339.5 354.9 L1339.9 355.6 L1340.4 360.7 L1340.9 358.4 L1341.3 358.8 L1341.8 357.2 L1342.2 366.4 L1342.7 359.1 L1343.2 355.6 L1343.6 355.9 L1344.1 353.8 L1344.5 344.8 L1345.0 340.9 L1345.5 334.0 L1345.9 326.4 L1346.4 325.0 L1346.8 315.0 L1347.3 314.5 L1347.8 314.2 L1348.2 313.7 L1348.7 306.9 L1349.1 311.3 L1349.6 316.6 L1350.1 310.5 L1350.5 308.6 L1351.0 315.8 L1351.4 315.6 L1351.9 314.6 L1352.4 311.8 L1352.8 315.2 L1353.3 316.7 L1353.7 320.5 L1354.2 330.7 L1354.7 333.2 L1355.1 335.3 L1355.6 330.4 L1356.0 326.5 L1356.5 327.4 L1357.0 326.5 L1357.4 331.0 L1357.9 339.2 L1358.3 343.2 L1358.8 350.6 L1359.3 355.5 L1359.7 349.4 L1360.2 340.5 L1360.6 336.2 L1361.1 333.2 L1361.6 326.6 L1362.0 324.2 L1362.5 323.1 L1362.9 321.9 L1363.4 319.5 L1363.9 319.8 L1364.3 316.1 L1364.8 314.3 L1365.2 317.1 L1365.7 315.2 L1366.2 318.3 L1366.6 316.6 L1367.1 318.5 L1367.5 319.4 L1368.0 324.3 L1368.5 325.3 L1368.9 328.6 L1369.4 332.2 L1369.8 338.7 L1370.1 341.9"/>
<g class="grid"><line x1="59" x2="641.5" y1="166" y2="166"/><line x1="59" x2="641.5" y1="242" y2="242"/><line x1="59" x2="641.5" y1="318" y2="318"/><line x1="59" x2="641.5" y1="394" y2="394"/><line x1="59" x2="641.5" y1="470" y2="470"/><line x1="787" x2="1373.5" y1="166" y2="166"/><line x1="787" x2="1373.5" y1="242" y2="242"/><line x1="787" x2="1373.5" y1="318" y2="318"/><line x1="787" x2="1373.5" y1="394" y2="394"/><line x1="787" x2="1373.5" y1="470" y2="470"/></g>
<g class="tick"><line x1="144" x2="144" y1="469" y2="489"/><line x1="258" x2="258" y1="469" y2="489"/><line x1="372" x2="372" y1="469" y2="489"/><line x1="486" x2="486" y1="469" y2="489"/><line x1="600" x2="600" y1="469" y2="489"/><line x1="872" x2="872" y1="469" y2="489"/><line x1="988" x2="988" y1="469" y2="489"/><line x1="1104" x2="1104" y1="469" y2="489"/><line x1="1218" x2="1218" y1="469" y2="489"/><line x1="1334" x2="1334" y1="469" y2="489"/></g>
<line x1="59" x2="641" y1="282" y2="282" stroke="#000" stroke-width="2"/>
<line x1="787" x2="1375" y1="358" y2="358" stroke="#000" stroke-width="2"/>
<circle cx="635.9" cy="316.2" r="12" fill="#a8be5b"/>
<circle cx="1370.1" cy="341.8" r="12" fill="#a8be5b"/>
<g transform="translate(453.1 40)"><circle r="14" fill="#cccccc"/><path d="M-6.35 -5.4 C-4.9 -8 -2.6 -9.55 0.25 -9.55 C4 -9.55 7.4 -7 7.4 -4 C7.4 -0.2 2.7 0 2.7 2.4 L2.7 3.15 L-1.9 3.15 L-1.9 2.2 C-1.9 -2 2.7 -1.9 2.7 -3.75 C2.7 -4.7 1.6 -5.3 0.25 -5.3 C-1.3 -5.3 -2.2 -4.6 -3.4 -2.7 Z" fill="#fff"/><circle cx="0.25" cy="7.3" r="2.6" fill="#fff"/></g><g transform="translate(1249.7 40)"><circle r="14" fill="#cccccc"/><path d="M-6.35 -5.4 C-4.9 -8 -2.6 -9.55 0.25 -9.55 C4 -9.55 7.4 -7 7.4 -4 C7.4 -0.2 2.7 0 2.7 2.4 L2.7 3.15 L-1.9 3.15 L-1.9 2.2 C-1.9 -2 2.7 -1.9 2.7 -3.75 C2.7 -4.7 1.6 -5.3 0.25 -5.3 C-1.3 -5.3 -2.2 -4.6 -3.4 -2.7 Z" fill="#fff"/><circle cx="0.25" cy="7.3" r="2.6" fill="#fff"/></g>
<line x1="327" x2="327" y1="680" y2="818" stroke="#dcdcdc" stroke-width="2"/>
<line x1="870" x2="1254" y1="777" y2="777" stroke="#000" stroke-width="2"/>
<circle cx="1107" cy="776" r="12" fill="#000"/>

<g id="axis-labels"><text x="7.86" y="171.0" font-size="25" textLength="33.12" lengthAdjust="spacingAndGlyphs" style="fill:#999999">8%</text><text x="7.58" y="247.0" font-size="25" textLength="33.42" lengthAdjust="spacingAndGlyphs" style="fill:#999999">7%</text><text x="7.51" y="323.0" font-size="25" textLength="33.74" lengthAdjust="spacingAndGlyphs" style="fill:#999999">6%</text><text x="7.52" y="399.0" font-size="25" textLength="33.41" lengthAdjust="spacingAndGlyphs" style="fill:#999999">5%</text><text x="8.32" y="475.0" font-size="25" textLength="32.65" lengthAdjust="spacingAndGlyphs" style="fill:#999999">4%</text><text x="741.91" y="171.0" font-size="25" textLength="27.52" lengthAdjust="spacingAndGlyphs" style="fill:#999999">18</text><text x="741.95" y="247.0" font-size="25" textLength="27.60" lengthAdjust="spacingAndGlyphs" style="fill:#999999">16</text><text x="741.69" y="323.0" font-size="25" textLength="27.25" lengthAdjust="spacingAndGlyphs" style="fill:#999999">14</text><text x="741.85" y="399.0" font-size="25" textLength="27.84" lengthAdjust="spacingAndGlyphs" style="fill:#999999">12</text><text x="741.96" y="475.0" font-size="25" textLength="27.39" lengthAdjust="spacingAndGlyphs" style="fill:#999999">10</text><text x="116.33" y="514.8" font-size="25" textLength="55.27" lengthAdjust="spacingAndGlyphs" style="fill:#999999">2022</text><text x="230.44" y="514.8" font-size="25" textLength="55.01" lengthAdjust="spacingAndGlyphs" style="fill:#999999">2023</text><text x="344.24" y="514.8" font-size="25" textLength="54.71" lengthAdjust="spacingAndGlyphs" style="fill:#999999">2024</text><text x="458.37" y="514.8" font-size="25" textLength="55.05" lengthAdjust="spacingAndGlyphs" style="fill:#999999">2025</text><text x="572.28" y="514.8" font-size="25" textLength="55.19" lengthAdjust="spacingAndGlyphs" style="fill:#999999">2026</text><text x="844.78" y="514.8" font-size="25" textLength="55.43" lengthAdjust="spacingAndGlyphs" style="fill:#999999">2022</text><text x="960.79" y="514.8" font-size="25" textLength="55.46" lengthAdjust="spacingAndGlyphs" style="fill:#999999">2023</text><text x="1076.86" y="514.8" font-size="25" textLength="54.87" lengthAdjust="spacingAndGlyphs" style="fill:#999999">2024</text><text x="1190.88" y="514.8" font-size="25" textLength="55.14" lengthAdjust="spacingAndGlyphs" style="fill:#999999">2025</text><text x="1306.79" y="514.8" font-size="25" textLength="55.40" lengthAdjust="spacingAndGlyphs" style="fill:#999999">2026</text></g>
<g id="dividend-yield"><text class="b" x="188.93" y="53.8" font-size="35.5" textLength="233.48" lengthAdjust="spacingAndGlyphs" style="fill:#000000">Dividend Yield</text><text x="179.31" y="103.9" font-size="29" textLength="297.87" lengthAdjust="spacingAndGlyphs" style="fill:#7f7f7f">Near its historical norm</text><text class="b" x="78.75" y="266.9" font-size="29" textLength="289.24" lengthAdjust="spacingAndGlyphs" style="fill:#000000">5-Year Average: 6.45%</text><text class="b halo" x="534.95" y="325.0" font-size="29" textLength="77.34" lengthAdjust="spacingAndGlyphs" style="fill:#000000">6.01%</text></g>
<g id="forward-paffo"><text class="b" x="860.64" y="53.8" font-size="35.5" textLength="358.54" lengthAdjust="spacingAndGlyphs" style="fill:#000000">Forward P/AFFO Ratio</text><text x="913.00" y="103.9" font-size="29" textLength="298.12" lengthAdjust="spacingAndGlyphs" style="fill:#7f7f7f">Near its historical norm</text><text class="b" x="806.82" y="342.9" font-size="29" textLength="266.15" lengthAdjust="spacingAndGlyphs" style="fill:#000000">5-Year Average: 12.9</text><text class="b halo" x="1293.12" y="349.2" font-size="29" textLength="54.29" lengthAdjust="spacingAndGlyphs" style="fill:#000000">13.4</text></g>
<g id="sector-comparison"><text class="b" x="60.76" y="635.1" font-size="35.5" textLength="533.91" lengthAdjust="spacingAndGlyphs" style="fill:#000000">Sector P/AFFO Ratio Comparison</text><text x="136.75" y="725.0" font-size="29" textLength="47.73" lengthAdjust="spacingAndGlyphs" style="fill:#000000">LTC</text><text x="126.80" y="789.0" font-size="37" textLength="68.06" lengthAdjust="spacingAndGlyphs" style="fill:#000000">13.4</text><text x="424.77" y="725.0" font-size="29" textLength="139.51" lengthAdjust="spacingAndGlyphs" style="fill:#000000">Real Estate</text><text x="460.75" y="789.0" font-size="37" textLength="67.50" lengthAdjust="spacingAndGlyphs" style="fill:#000000">15.5</text></g>
<g id="price-range"><text class="b" x="891.67" y="635.1" font-size="35.5" textLength="340.60" lengthAdjust="spacingAndGlyphs" style="fill:#000000">52-Week Price Range</text><text x="1063.21" y="706.0" font-size="28" textLength="84.47" lengthAdjust="spacingAndGlyphs" style="fill:#000000">$37.92</text><text x="1008.60" y="744.1" font-size="28" textLength="192.35" lengthAdjust="spacingAndGlyphs" style="fill:#000000">(Today, Apr 23)</text><text x="763.53" y="784.9" font-size="28.5" textLength="84.07" lengthAdjust="spacingAndGlyphs" style="fill:#999999">$33.98</text><text x="1277.03" y="784.9" font-size="28.5" textLength="84.48" lengthAdjust="spacingAndGlyphs" style="fill:#999999">$40.36</text></g>
</svg>
</body>
</html>
